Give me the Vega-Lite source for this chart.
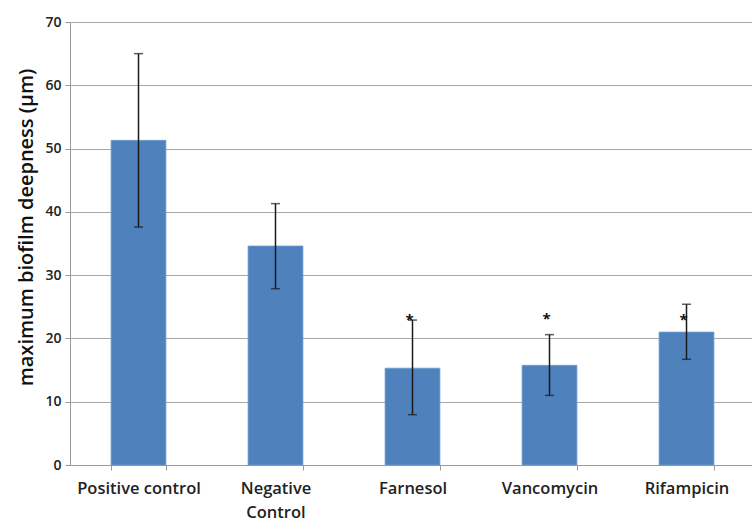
{
  "$schema": "https://vega.github.io/schema/vega-lite/v6.json",
  "autosize": {"type": "none"},
  "padding": {"left": 70, "top": 22, "right": 0, "bottom": 58},
  "width": 685,
  "height": 443,
  "background": "white",
  "data": {
    "values": [
      {"group": "Positive control", "mean": 51.3, "lo": 37.6, "hi": 65.0, "star": "", "starY": null},
      {"group": "Negative Control", "mean": 34.6, "lo": 27.85, "hi": 41.3, "star": "", "starY": null},
      {"group": "Farnesol", "mean": 15.3, "lo": 7.95, "hi": 22.9, "star": "*", "starY": 23.6},
      {"group": "Vancomycin", "mean": 15.75, "lo": 11.0, "hi": 20.6, "star": "*", "starY": 23.7},
      {"group": "Rifampicin", "mean": 21.0, "lo": 16.7, "hi": 25.4, "star": "*", "starY": 23.6}
    ]
  },
  "encoding": {
    "x": {
      "field": "group",
      "type": "nominal",
      "sort": null,
      "scale": {"paddingInner": 0.6, "paddingOuter": 0.3},
      "axis": {
        "title": null,
        "labelAngle": 0,
        "labelFont": "Open Sans",
        "labelFontSize": 16.5,
        "labelFontWeight": 600,
        "labelColor": "#222222",
        "labelPadding": 10,
        "labelLineHeight": 24,
        "labelExpr": "datum.value == 'Negative Control' ? ['Negative', 'Control'] : datum.value",
        "tickBand": "extent",
        "tickSize": 5,
        "tickColor": "#9a9a9a",
        "domainColor": "#9a9a9a",
        "grid": false
      }
    }
  },
  "layer": [
    {
      "mark": {"type": "bar", "color": "#4f81bd", "stroke": "#6b9bd2", "strokeWidth": 0.8},
      "encoding": {
        "y": {
          "field": "mean",
          "type": "quantitative",
          "scale": {"domain": [0, 70]},
          "axis": {
            "title": "maximum biofilm deepness (µm)",
            "titleFont": "Open Sans",
            "titleFontSize": 20,
            "titleFontWeight": 600,
            "titleColor": "#111111",
            "titlePadding": 8,
            "titleY": 205,
            "values": [0, 10, 20, 30, 40, 50, 60, 70],
            "labelFont": "Open Sans",
            "labelFontSize": 14,
            "labelFontWeight": 600,
            "labelColor": "#222222",
            "labelPadding": 4,
            "tickSize": 5,
            "tickColor": "#9a9a9a",
            "domainColor": "#9a9a9a",
            "gridColor": "#a8a8a8",
            "gridWidth": 1.2
          }
        }
      }
    },
    {
      "mark": {"type": "rule", "color": "#1a1a1a", "strokeWidth": 1.5},
      "encoding": {
        "y": {"field": "lo", "type": "quantitative"},
        "y2": {"field": "hi"}
      }
    },
    {
      "mark": {"type": "tick", "color": "#1a1a1a", "thickness": 1.5, "size": 9, "orient": "horizontal"},
      "encoding": {"y": {"field": "lo", "type": "quantitative"}}
    },
    {
      "mark": {"type": "tick", "color": "#1a1a1a", "thickness": 1.5, "size": 9, "orient": "horizontal"},
      "encoding": {"y": {"field": "hi", "type": "quantitative"}}
    },
    {
      "transform": [{"filter": "datum.star != ''"}],
      "mark": {"type": "text", "font": "Open Sans", "fontSize": 15, "fontWeight": "bold", "color": "#111111", "dx": -3, "dy": 4, "baseline": "middle"},
      "encoding": {
        "y": {"field": "starY", "type": "quantitative"},
        "text": {"field": "star"}
      }
    }
  ],
  "config": {"view": {"stroke": null}}
}
